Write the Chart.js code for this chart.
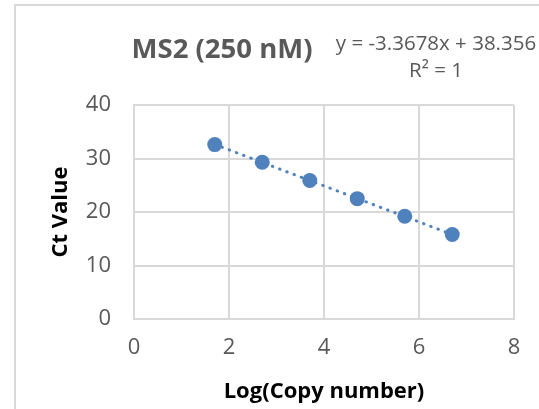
<!DOCTYPE html>
<html>
<head>
<meta charset="utf-8">
<script src="https://cdn.jsdelivr.net/npm/chart.js@4/dist/chart.umd.min.js"></script>
<style>
  html, body { margin: 0; padding: 0; background: #fff; }
  canvas { display: block; }
</style>
</head>
<body>
<canvas id="chart" width="539" height="409"></canvas>
<script>
// values
const logCopies = [1.7, 2.7, 3.7, 4.7, 5.7, 6.7];
const ctValues = [32.6, 29.3, 25.9, 22.5, 19.2, 15.8];
const trendX = [1.7, 6.7];
const trendY = [32.63, 15.79];
const xTicks = [0, 2, 4, 6, 8];
const yTicks = [0, 10, 20, 30, 40];
const chartTitle = "MS2 (250 nM)";
const equationLines = ["y = -3.3678x + 38.356", "R² = 1"];

const blue = "#4F81BD";
const grey = "#595959";
const gridColor = "#D9D9D9";
const fontFamily = "'Open Sans', 'Noto Sans', sans-serif";

// chart frame, title and trendline label, Excel style
const decorations = {
	id: "decorations",
	beforeDraw(chart) {
		const ctx = chart.ctx;
		ctx.save();
		ctx.fillStyle = "#fff";
		ctx.fillRect(0, 0, chart.width, chart.height);
		ctx.strokeStyle = gridColor;
		ctx.lineWidth = 2;
		ctx.strokeRect(15, 5, 700, 600);
		ctx.restore();
	},
	afterDraw(chart) {
		const ctx = chart.ctx;
		ctx.save();
		ctx.fillStyle = grey;
		ctx.textAlign = "center";
		ctx.textBaseline = "alphabetic";
		ctx.font = `bold 27.5px ${fontFamily}`;
		ctx.fillText(chartTitle, 222, 58);
		ctx.font = `20.5px ${fontFamily}`;
		ctx.fillText(equationLines[0], 436, 50);
		ctx.fillText(equationLines[1], 436, 77);
		ctx.restore();
	},
};

new Chart(document.getElementById("chart"), {
	type: "scatter",
	data: {
		datasets: [
			{
				label: "Linear trend",
				data: trendX.map((x, i) => ({ x: x, y: trendY[i] })),
				showLine: true,
				borderColor: blue,
				borderWidth: 3,
				borderDash: [0.5, 7.2],
				borderCapStyle: "round",
				pointRadius: 0,
				order: 2,
			},
			{
				label: "Ct",
				data: logCopies.map((x, i) => ({ x: x, y: ctValues[i] })),
				backgroundColor: blue,
				borderWidth: 0,
				pointRadius: 7.5,
				pointHoverRadius: 7.5,
				order: 1,
			},
		],
	},
	options: {
		responsive: false,
		animation: false,
		layout: {
			padding: { left: 0, top: 105, right: 25, bottom: 0 },
		},
		plugins: {
			legend: { display: false },
			tooltip: { enabled: false },
		},
		scales: {
			x: {
				type: "linear",
				min: 0,
				max: 8,
				afterBuildTicks: (scale) => {
					scale.ticks = xTicks.map((v) => ({ value: v }));
				},
				afterFit: (scale) => {
					scale.height = 90;
				},
				grid: { color: gridColor, lineWidth: 2, drawTicks: false },
				border: { color: gridColor, width: 2 },
				ticks: {
					color: grey,
					padding: 16,
					font: { family: fontFamily, size: 22 },
				},
				title: {
					display: true,
					text: "Log(Copy number)",
					color: "#000",
					padding: { top: 0, bottom: 4 },
					font: { family: fontFamily, size: 22, weight: "bold" },
				},
			},
			y: {
				type: "linear",
				min: 0,
				max: 40,
				afterBuildTicks: (scale) => {
					scale.ticks = yTicks.map((v) => ({ value: v }));
				},
				afterFit: (scale) => {
					scale.width = 134;
				},
				grid: { color: gridColor, lineWidth: 2, drawTicks: false },
				border: { color: gridColor, width: 2 },
				ticks: {
					color: grey,
					padding: 23,
					font: { family: fontFamily, size: 22 },
				},
				title: {
					display: true,
					text: "Ct Value",
					color: "#000",
					padding: { top: 48, bottom: 0 },
					font: { family: fontFamily, size: 22, weight: "bold" },
				},
			},
		},
	},
	plugins: [decorations],
});
</script>
</body>
</html>
